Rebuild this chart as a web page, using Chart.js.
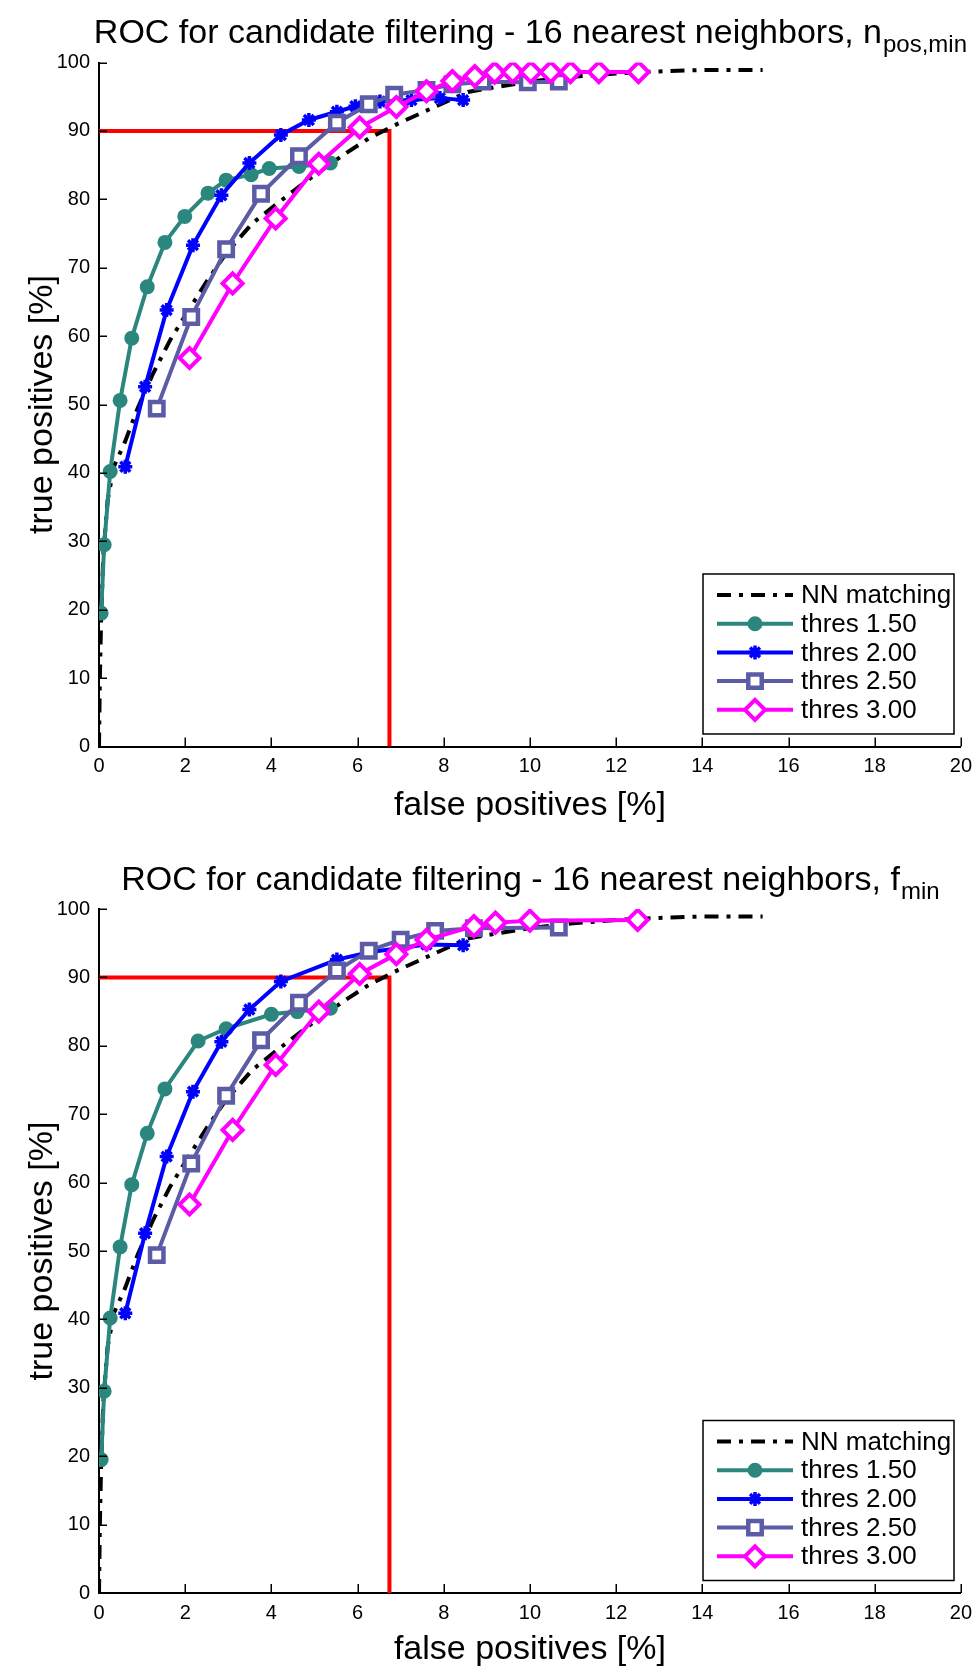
<!DOCTYPE html>
<html><head><meta charset="utf-8">
<script src="https://cdn.jsdelivr.net/npm/chart.js@4/dist/chart.umd.min.js"></script>
<style>
html,body{margin:0;padding:0;background:#fff;}
#wrap{position:relative;width:980px;height:1670px;background:#fff;}
canvas{position:absolute;left:0;}
#c1{top:0}
#c2{top:835px}
</style></head><body>
<div id="wrap"><canvas id="c1" width="980" height="835"></canvas><canvas id="c2" width="980" height="835"></canvas></div>
<script>
// ---------- text ----------
const titleMainTop = 'ROC for candidate filtering - 16 nearest neighbors, n';
const titleSubTop = 'pos,min';
const titleMainBottom = 'ROC for candidate filtering - 16 nearest neighbors, f';
const titleSubBottom = 'min';
const xAxisTitle = 'false positives [%]';
const yAxisTitle = 'true positives [%]';
const seriesNames = ['NN matching', 'thres 1.50', 'thres 2.00', 'thres 2.50', 'thres 3.00'];
const xTickValues = [0, 2, 4, 6, 8, 10, 12, 14, 16, 18, 20];
const yTickValues = [0, 10, 20, 30, 40, 50, 60, 70, 80, 90, 100];

// ---------- red operating point lines ----------
const redX = [0, 6.74, 6.74];
const redY = [90, 90, 0];

// ---------- top chart (n_pos,min) ----------
const nnTopX = [0, 0.02, 0.05, 0.1, 0.2, 0.35, 0.6, 0.9, 1.26, 1.65, 2.0, 2.5, 2.95, 3.56, 4.18, 4.95, 5.72, 6.26, 6.95, 7.72, 8.56, 9.3, 10.0, 11.0, 12.0, 13.0, 14.0, 15.4];
const nnTopY = [0, 10, 19, 28, 36, 41, 44.5, 49.5, 54.6, 59.4, 63, 68, 72.1, 76.5, 79.6, 83.3, 86.7, 88.9, 91.1, 93.3, 95.7, 96.5, 97.2, 97.9, 98.4, 98.7, 98.9, 98.9];
const t150TopX = [0.05, 0.12, 0.26, 0.49, 0.76, 1.12, 1.53, 1.99, 2.53, 2.95, 3.53, 3.95, 4.64, 5.37];
const t150TopY = [19.5, 29.5, 40.2, 50.6, 59.7, 67.2, 73.7, 77.5, 80.9, 82.8, 83.6, 84.5, 84.8, 85.3];
const t200TopX = [0.61, 1.07, 1.57, 2.18, 2.84, 3.49, 4.22, 4.87, 5.52, 5.95, 6.52, 7.25, 7.91, 8.45];
const t200TopY = [40.9, 52.6, 63.8, 73.3, 80.6, 85.3, 89.4, 91.6, 92.8, 93.6, 94.3, 94.5, 94.8, 94.5];
const t250TopX = [1.34, 2.14, 2.95, 3.76, 4.64, 5.52, 6.26, 6.85, 7.6, 8.2, 8.9, 9.95, 10.67];
const t250TopY = [49.4, 62.8, 72.7, 80.8, 86.3, 91.2, 93.9, 95.3, 96.0, 96.8, 97.2, 97.1, 97.2];
const t300TopX = [2.1, 3.1, 4.1, 5.1, 6.05, 6.9, 7.6, 8.2, 8.72, 9.18, 9.6, 10.02, 10.48, 10.94, 11.6, 12.52];
const t300TopY = [56.8, 67.7, 77.2, 85.2, 90.5, 93.5, 95.8, 97.3, 98.0, 98.5, 98.6, 98.6, 98.6, 98.6, 98.6, 98.6];

// ---------- bottom chart (f_min) ----------
const nnBotX = [0, 0.02, 0.05, 0.1, 0.2, 0.35, 0.6, 0.9, 1.26, 1.65, 2.0, 2.5, 2.95, 3.56, 4.18, 4.95, 5.72, 6.26, 6.95, 7.72, 8.56, 9.3, 10.0, 11.0, 12.0, 13.0, 14.0, 15.4];
const nnBotY = [0, 10, 19, 28, 36, 41, 44.5, 49.5, 54.6, 59.4, 63, 68, 72.1, 76.5, 79.6, 83.3, 86.7, 88.9, 91.1, 93.3, 95.7, 96.5, 97.2, 97.9, 98.4, 98.7, 98.9, 98.9];
const t150BotX = [0.05, 0.12, 0.26, 0.49, 0.76, 1.12, 1.53, 2.3, 2.95, 4.0, 4.6, 5.37];
const t150BotY = [19.5, 29.5, 40.2, 50.6, 59.7, 67.2, 73.7, 80.7, 82.5, 84.6, 85.0, 85.5];
const t200BotX = [0.61, 1.07, 1.57, 2.18, 2.84, 3.49, 4.22, 5.52, 6.3, 7.0, 7.6, 8.45];
const t200BotY = [40.9, 52.6, 63.8, 73.3, 80.6, 85.3, 89.4, 92.6, 93.7, 94.3, 94.8, 94.7];
const t250BotX = [1.34, 2.14, 2.95, 3.76, 4.64, 5.52, 6.26, 7.0, 7.8, 8.7, 10.67];
const t250BotY = [49.4, 62.8, 72.7, 80.8, 86.3, 91.0, 93.9, 95.5, 96.8, 97.2, 97.3];
const t300BotX = [2.1, 3.1, 4.1, 5.1, 6.05, 6.9, 7.6, 8.7, 9.2, 10.0, 12.5];
const t300BotY = [56.8, 67.7, 77.2, 85.0, 90.5, 93.4, 95.5, 97.5, 98.0, 98.3, 98.4];

// ---------- styles ----------
const colNN = '#000000', col150 = '#2b877e', col200 = '#0000ff', col250 = '#5b5ba6', col300 = '#ff00ff', colRed = '#ff0000';
const FONT = "'Liberation Sans', Arial, Helvetica, sans-serif";

function pts(xs, ys) { return xs.map((x, i) => ({ x: x, y: ys[i] })); }

function makeDatasets(nnX, nnY, aX, aY, bX, bY, cX, cY, dX, dY) {
  return [
    { label: 'red', data: pts(redX, redY), borderColor: colRed, borderWidth: 4, pointRadius: 0, showLine: true, order: 10, legend: false },
    { label: seriesNames[0], data: pts(nnX, nnY), borderColor: colNN, borderWidth: 4, borderDash: [14, 8, 4, 8], pointRadius: 0, showLine: true, order: 5 },
    { label: seriesNames[1], data: pts(aX, aY), borderColor: col150, backgroundColor: col150, borderWidth: 4,
      pointStyle: 'circle', pointRadius: 6.5, pointBorderWidth: 2, pointBackgroundColor: col150, pointBorderColor: col150, showLine: true, order: 4 },
    { label: seriesNames[2], data: pts(bX, bY), borderColor: col200, backgroundColor: col200, borderWidth: 4,
      pointStyle: 'star', pointRadius: 7, pointBorderWidth: 3.5, pointBorderColor: col200, showLine: true, order: 3 },
    { label: seriesNames[3], data: pts(cX, cY), borderColor: col250, backgroundColor: '#ffffff', borderWidth: 4,
      pointStyle: 'rect', pointRadius: 9.5, pointBorderWidth: 4.5, pointBackgroundColor: '#ffffff', pointBorderColor: col250, showLine: true, order: 2 },
    { label: seriesNames[4], data: pts(dX, dY), borderColor: col300, backgroundColor: '#ffffff', borderWidth: 4,
      pointStyle: 'rectRot', pointRadius: 10, pointBorderWidth: 4, pointBackgroundColor: '#ffffff', pointBorderColor: col300, showLine: true, order: 1 }
  ];
}

// ---------- plugins ----------
const titlePlugin = {
  id: 'subTitle',
  afterDraw(chart, args, opts) {
    const ctx = chart.ctx, a = chart.chartArea;
    ctx.save();
    ctx.fillStyle = '#000';
    ctx.textBaseline = 'alphabetic';
    ctx.font = '34px ' + FONT;
    const w1 = ctx.measureText(opts.main).width;
    ctx.font = '24px ' + FONT;
    const w2 = ctx.measureText(opts.sub).width;
    const cx = (a.left + a.right) / 2;
    let x0 = cx - (w1 + w2) / 2;
    ctx.font = '34px ' + FONT;
    ctx.textAlign = 'left';
    ctx.fillText(opts.main, x0, opts.baseline);
    ctx.font = '24px ' + FONT;
    ctx.fillText(opts.sub, x0 + w1 + 1, opts.baseline + 9);
    ctx.restore();
  }
};

const innerTicks = {
  id: 'innerTicks',
  afterDraw(chart) {
    const { ctx, chartArea: a, scales: { x, y } } = chart;
    ctx.save();
    ctx.strokeStyle = '#000';
    ctx.lineWidth = 1.5;
    xTickValues.forEach(v => { const px = Math.round(x.getPixelForValue(v)) + 0.25; ctx.beginPath(); ctx.moveTo(px, a.bottom); ctx.lineTo(px, a.bottom - 9); ctx.stroke(); });
    yTickValues.forEach(v => { const py = Math.round(y.getPixelForValue(v)) + 0.25; ctx.beginPath(); ctx.moveTo(a.left, py); ctx.lineTo(a.left + 8, py); ctx.stroke(); });
    ctx.restore();
  }
};

function drawMarker(ctx, style, x, y, r) {
  ctx.beginPath();
  if (style === 'circle') { ctx.arc(x, y, r, 0, Math.PI * 2); ctx.fill(); ctx.stroke(); }
  else if (style === 'rect') { const s = r * Math.SQRT1_2; ctx.rect(x - s, y - s, 2 * s, 2 * s); ctx.fill(); ctx.stroke(); }
  else if (style === 'rectRot') { ctx.moveTo(x, y - r); ctx.lineTo(x + r, y); ctx.lineTo(x, y + r); ctx.lineTo(x - r, y); ctx.closePath(); ctx.fill(); ctx.stroke(); }
  else if (style === 'star') {
    ctx.moveTo(x - r, y); ctx.lineTo(x + r, y); ctx.moveTo(x, y - r); ctx.lineTo(x, y + r);
    const d = r * Math.SQRT1_2; ctx.moveTo(x - d, y - d); ctx.lineTo(x + d, y + d); ctx.moveTo(x - d, y + d); ctx.lineTo(x + d, y - d);
    ctx.stroke();
  }
}

const legendPlugin = {
  id: 'boxLegend',
  afterDraw(chart) {
    const ctx = chart.ctx, a = chart.chartArea;
    const boxL = 703, boxR = 954, boxB = a.bottom - 12.5, boxT = boxB - 160;
    ctx.save();
    ctx.fillStyle = '#fff';
    ctx.fillRect(boxL, boxT, boxR - boxL, boxB - boxT);
    ctx.strokeStyle = '#000';
    ctx.lineWidth = 1.5;
    ctx.strokeRect(boxL, boxT, boxR - boxL, boxB - boxT);
    const items = chart.data.datasets.filter(d => d.legend !== false);
    items.forEach((ds, i) => {
      const cy = boxT + 21 + i * 28.7;
      ctx.save();
      ctx.strokeStyle = ds.borderColor;
      ctx.lineWidth = 4;
      ctx.setLineDash(ds.borderDash || []);
      ctx.beginPath(); ctx.moveTo(717, cy); ctx.lineTo(793, cy); ctx.stroke();
      ctx.setLineDash([]);
      if (ds.pointStyle) {
        ctx.fillStyle = ds.pointBackgroundColor || ds.borderColor;
        ctx.strokeStyle = ds.pointBorderColor || ds.borderColor;
        ctx.lineWidth = ds.pointBorderWidth;
        drawMarker(ctx, ds.pointStyle, 755, cy, ds.pointRadius);
      }
      ctx.restore();
      ctx.fillStyle = '#000';
      ctx.font = '26px ' + FONT;
      ctx.textAlign = 'left';
      ctx.textBaseline = 'middle';
      ctx.fillText(ds.label, 801, cy + 1);
    });
    ctx.restore();
  }
};

function makeChart(id, datasets, cfg) {
  return new Chart(document.getElementById(id), {
    type: 'scatter',
    data: { datasets: datasets },
    options: {
      responsive: false,
      animation: false,
      devicePixelRatio: 1,
      layout: { padding: { top: cfg.plotTop, right: 14, bottom: 0, left: 0 } },
      plugins: {
        legend: { display: false },
        tooltip: { enabled: false },
        subTitle: { main: cfg.main, sub: cfg.sub, baseline: cfg.titleBaseline }
      },
      scales: {
        x: {
          type: 'linear', min: 0, max: 20,
          afterBuildTicks: s => { s.ticks = xTickValues.map(v => ({ value: v })); },
          afterFit: s => { s.height = cfg.xAxisHeight; },
          grid: { display: false, drawTicks: false },
          border: { display: true, color: '#000', width: 2 },
          ticks: { color: '#000', font: { size: 20, family: FONT }, padding: 8, maxRotation: 0, autoSkip: false },
          title: { display: true, text: xAxisTitle, color: '#000', font: { size: 34, family: FONT }, padding: { top: 0, bottom: cfg.xTitlePad } }
        },
        y: {
          type: 'linear', min: 0, max: 100,
          afterBuildTicks: s => { s.ticks = yTickValues.map(v => ({ value: v })); },
          afterFit: s => { s.width = 99; },
          grid: { display: false, drawTicks: false },
          border: { display: true, color: '#000', width: 2 },
          ticks: { color: '#000', font: { size: 20, family: FONT }, padding: 9, autoSkip: false },
          title: { display: true, text: yAxisTitle, color: '#000', font: { size: 34, family: FONT }, padding: { top: 22, bottom: 0 } }
        }
      }
    },
    plugins: [innerTicks, titlePlugin, legendPlugin]
  });
}

makeChart('c1', makeDatasets(nnTopX, nnTopY, t150TopX, t150TopY, t200TopX, t200TopY, t250TopX, t250TopY, t300TopX, t300TopY),
  { plotTop: 62.5, xAxisHeight: 88.5, xTitlePad: 9, main: titleMainTop, sub: titleSubTop, titleBaseline: 43 });
makeChart('c2', makeDatasets(nnBotX, nnBotY, t150BotX, t150BotY, t200BotX, t200BotY, t250BotX, t250BotY, t300BotX, t300BotY),
  { plotTop: 74, xAxisHeight: 77, xTitlePad: 0, main: titleMainBottom, sub: titleSubBottom, titleBaseline: 55 });
</script>
</body></html>
